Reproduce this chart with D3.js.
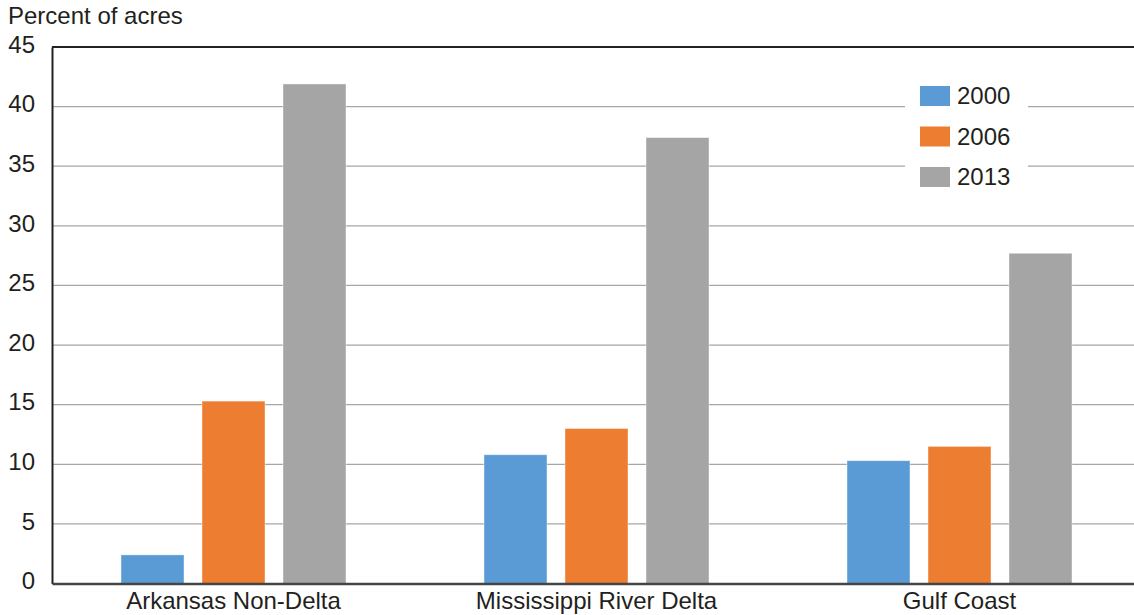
<!DOCTYPE html>
<html>
<head>
<meta charset="utf-8">
<script src="https://cdn.jsdelivr.net/npm/d3@7"></script>
<style>
  html, body { margin: 0; padding: 0; background: #fff; }
  svg { display: block; }
  text { font-family: "Liberation Sans", Arial, Helvetica, sans-serif; fill: #231f20; }
</style>
</head>
<body>
<svg id="chart" width="1134" height="615"></svg>
<script>
const categories = ["Arkansas Non-Delta", "Mississippi River Delta", "Gulf Coast"];
const seriesNames = ["2000", "2006", "2013"];
const values2000 = [2.4, 10.8, 10.3];
const values2006 = [15.3, 13.0, 11.5];
const values2013 = [41.9, 37.4, 27.7];
const yTicks = [0, 5, 10, 15, 20, 25, 30, 35, 40, 45];
const colors = ["#5b9bd5", "#ed7d31", "#a5a5a5"];
const yTitle = "Percent of acres";

const series = [values2000, values2006, values2013];
const data = categories.map((c, i) => ({
  category: c,
  values: seriesNames.map((s, j) => ({ key: s, value: series[j][i], color: colors[j] }))
}));

const svg = d3.select("#chart");
const mLeft = 52, mRight = 1141, mTop = 47, mBottom = 583.5;
const fs = 24;

const x0 = d3.scaleBand().domain(categories).range([mLeft, mRight]).paddingInner(0).paddingOuter(0);
const y = d3.scaleLinear().domain([0, 45]).range([mBottom, mTop]);

// gridlines
svg.append("g").selectAll("line").data(yTicks.filter(t => t > 0 && t < 45)).join("line")
  .attr("x1", mLeft).attr("x2", 1134)
  .attr("y1", d => y(d)).attr("y2", d => y(d))
  .attr("stroke", "#a6a6a6").attr("stroke-width", 1.3);

// top border
svg.append("line").attr("x1", mLeft).attr("x2", 1134).attr("y1", y(45)).attr("y2", y(45))
  .attr("stroke", "#222").attr("stroke-width", 2);

// bars
const barW = 63, gap = 18;
const x1 = d3.scaleBand().domain(seriesNames).range([-(1.5 * barW + gap), 1.5 * barW + gap]).paddingInner(gap / (barW + gap)).paddingOuter(0);
const groups = svg.append("g").selectAll("g").data(data).join("g")
  .attr("transform", d => `translate(${x0(d.category) + x0.bandwidth() / 2},0)`);
groups.selectAll("rect").data(d => d.values).join("rect")
  .attr("x", d => x1(d.key))
  .attr("width", x1.bandwidth())
  .attr("y", d => y(d.value))
  .attr("height", d => y(0) - y(d.value))
  .attr("fill", d => d.color)
  .attr("stroke", "#ffffff").attr("stroke-opacity", 0.5).attr("stroke-width", 0.8);

// left axis
const yAxis = d3.axisLeft(y).tickValues(yTicks).tickSize(0).tickPadding(17);
const gy = svg.append("g").attr("transform", `translate(${mLeft},0)`).call(yAxis);
gy.select(".domain").attr("stroke", "#222").attr("stroke-width", 2);
gy.selectAll("text").attr("font-size", fs).attr("font-family", "Liberation Sans, Arial, sans-serif")
  .attr("fill", "#231f20").attr("dy", "0.22em");

// bottom axis
const xAxis = d3.axisBottom(x0).tickSize(0).tickPadding(9);
const gx = svg.append("g").attr("transform", `translate(0,${mBottom})`).call(xAxis);
gx.select(".domain").attr("stroke", "#444").attr("stroke-width", 2.5);
gx.selectAll("text").attr("font-size", fs).attr("font-family", "Liberation Sans, Arial, sans-serif")
  .attr("fill", "#231f20").attr("dy", "0.68em");

// title
svg.append("text").attr("x", 8).attr("y", 24).attr("font-size", fs).text(yTitle);

// legend
const lg = svg.append("g");
lg.append("rect").attr("x", 905).attr("y", 78).attr("width", 123).attr("height", 116).attr("fill", "#fff");
const items = lg.selectAll("g").data(seriesNames).join("g")
  .attr("transform", (d, i) => `translate(920,${86 + i * 40.5})`);
items.append("rect").attr("width", 30).attr("height", 20).attr("fill", (d, i) => colors[i]);
items.append("text").attr("x", 37).attr("y", 18).attr("font-size", fs).text(d => d);
</script>
</body>
</html>
